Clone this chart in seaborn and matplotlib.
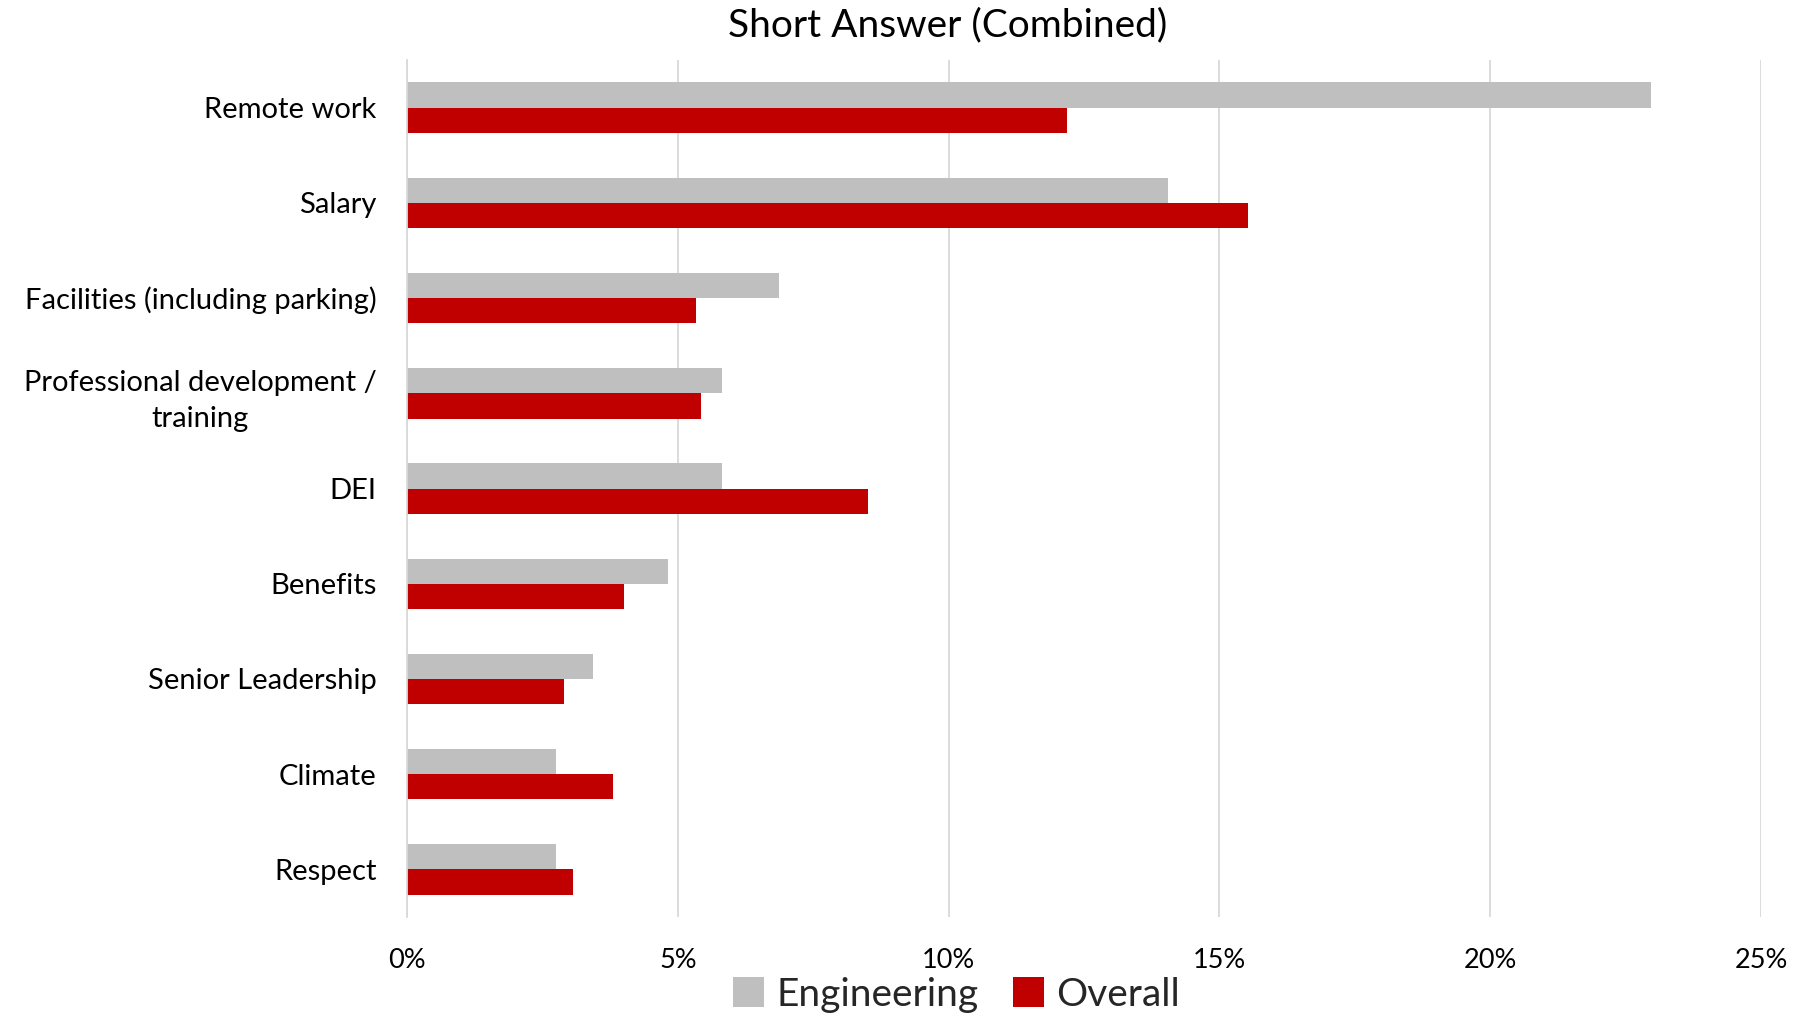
import matplotlib
matplotlib.use("Agg")
import matplotlib.pyplot as plt
import seaborn as sns
import pandas as pd
from matplotlib.ticker import PercentFormatter, MultipleLocator
from matplotlib.patches import Patch

categories = ["Remote work", "Salary", "Facilities (including parking)",
              "Professional development /\ntraining", "DEI", "Benefits",
              "Senior Leadership", "Climate", "Respect"]
engineering = [22.97, 14.06, 6.86, 5.82, 5.82, 4.81, 3.43, 2.75, 2.75]
overall = [12.19, 15.52, 5.33, 5.42, 8.51, 4.00, 2.90, 3.81, 3.07]
series = ["Engineering", "Overall"]
colors = ["#bfbfbf", "#c00000"]

df = pd.DataFrame({
    "category": categories * 2,
    "value": engineering + overall,
    "series": [series[0]] * len(categories) + [series[1]] * len(categories),
})

sns.set_theme(style="white")
plt.rcParams["font.family"] = ["Lato", "DejaVu Sans"]

fig = plt.figure(figsize=(17.98, 10.17), dpi=100)
ax = fig.add_axes([0.2264, 0.0983, 0.9794 - 0.2264, 0.941 - 0.0983])

sns.barplot(data=df, y="category", x="value", hue="series", orient="h",
            palette=colors, saturation=1, width=0.53, dodge=True, ax=ax,
            legend=False, edgecolor="none", linewidth=0)

ax.set_xlim(0, 25)
ax.xaxis.set_major_locator(MultipleLocator(5))
ax.xaxis.set_major_formatter(PercentFormatter(decimals=0))
ax.grid(axis="x", color="#d9d9d9", linewidth=1.3)
ax.set_axisbelow(True)
for s in ["top", "right", "bottom"]:
    ax.spines[s].set_visible(False)
ax.spines["left"].set_color("#d9d9d9")
ax.spines["left"].set_linewidth(1.3)
ax.set_xlabel("")
ax.set_ylabel("")
ax.tick_params(axis="both", length=0, colors="black")
ax.tick_params(axis="y", labelsize=21, pad=22)
ax.tick_params(axis="x", labelsize=19.5, pad=22)
for lbl in ax.get_yticklabels():
    lbl.set_multialignment("center")
    lbl.set_linespacing(1.5)
ax.set_ylim(len(categories) - 0.5, -0.5)

fig.text(0.527, 0.975, "Short Answer (Combined)", ha="center", va="center",
         fontsize=28, color="black")

handles = [Patch(facecolor=c, edgecolor="none") for c in colors]
fig.legend(handles, series, loc="center", bbox_to_anchor=(0.532, 0.022), ncol=2,
           frameon=False, fontsize=28, handlelength=0.8, handleheight=0.8,
           handletextpad=0.3, columnspacing=0.9)

fig.savefig("out.png", dpi=100, facecolor="white")
